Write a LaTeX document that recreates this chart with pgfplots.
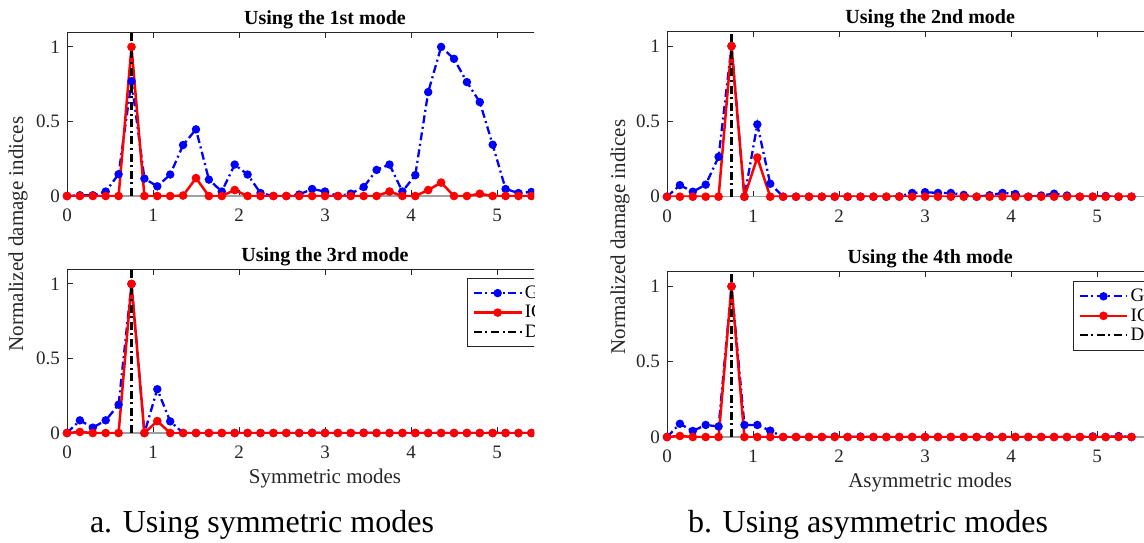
\documentclass[border=0pt]{standalone}
\usepackage{pgfplots}
\usepackage{pgfplotstable}
\pgfplotsset{compat=1.18}
\usepackage{fontspec}
\setmainfont{Liberation Serif}

\definecolor{axgray}{RGB}{38,38,38}
\definecolor{basegray}{RGB}{160,160,160}

\pgfplotstableread{
x b r
0 0 0
0.15 0.005 0
0.3 0.005 0
0.45 0.03 0
0.6 0.146 0
0.75 0.77 1
0.9 0.117 0
1.05 0.065 0
1.2 0.144 0
1.35 0.342 0.003
1.5 0.447 0.12
1.65 0.11 0
1.8 0.03 0
1.95 0.211 0.04
2.1 0.144 0
2.25 0.02 0
2.4 0 0
2.55 0 0
2.7 0.01 0
2.85 0.047 0
3.0 0.03 0
3.15 0 0
3.3 0.016 0
3.45 0.06 0
3.6 0.175 0
3.75 0.211 0.03
3.9 0.03 0
4.05 0.14 0
4.2 0.697 0.04
4.35 1.0 0.09
4.5 0.92 0
4.65 0.764 0
4.8 0.63 0.015
4.95 0.344 0
5.1 0.047 0
5.25 0.02 0
5.4 0.027 0
}\modeone

\pgfplotstableread{
x b r
0 0 0
0.15 0.077 0
0.3 0.033 0
0.45 0.08 0
0.6 0.265 0
0.75 1 1
0.9 0 0
1.05 0.48 0.26
1.2 0.086 0
1.35 0 0
1.5 0 0
1.65 0 0
1.8 0 0
1.95 0 0
2.1 0 0
2.25 0 0
2.4 0 0
2.55 0 0
2.7 0.002 0
2.85 0.025 0
3.0 0.03 0
3.15 0.025 0
3.3 0.025 0
3.45 0.012 0
3.6 0 0
3.75 0.01 0
3.9 0.025 0
4.05 0.018 0
4.2 0 0
4.35 0.008 0
4.5 0.02 0
4.65 0.008 0
4.8 0 0
4.95 0 0
5.1 0.005 0
5.25 0 0
5.4 0 0
}\modetwo

\pgfplotstableread{
x b r
0 0 0
0.15 0.085 0.007
0.3 0.036 0
0.45 0.085 0
0.6 0.19 0
0.75 1 1
0.9 0 0
1.05 0.294 0.08
1.2 0.078 0
1.35 0 0
1.5 0 0
1.65 0 0
1.8 0 0
1.95 0 0
2.1 0 0
2.25 0 0
2.4 0 0
2.55 0 0
2.7 0 0
2.85 0.002 0
3.0 0 0
3.15 0 0
3.3 0 0
3.45 0.002 0
3.6 0 0
3.75 0 0
3.9 0 0
4.05 0 0
4.2 0 0
4.35 0 0
4.5 0 0
4.65 0 0
4.8 0 0
4.95 0 0
5.1 0 0
5.25 0 0
5.4 0 0
}\modethree

\pgfplotstableread{
x b r
0 0 0
0.15 0.088 0.007
0.3 0.04 0
0.45 0.08 0
0.6 0.07 0
0.75 1 1
0.9 0.08 0
1.05 0.08 0
1.2 0.042 0
1.35 0 0
1.5 0 0
1.65 0 0
1.8 0 0
1.95 0.003 0
2.1 0 0
2.25 0.003 0
2.4 0 0
2.55 0 0
2.7 0 0
2.85 0 0
3.0 0 0
3.15 0 0
3.3 0 0
3.45 0 0
3.6 0 0
3.75 0.004 0
3.9 0 0
4.05 0 0
4.2 0 0
4.35 0 0
4.5 0 0
4.65 0 0
4.8 0 0
4.95 0.004 0
5.1 0 0
5.25 0.006 0
5.4 0 0
}\modefour

\pgfplotsset{
  panel/.style={
    scale only axis,
    anchor=south west,
    ymin=0, ymax=1.1,
    xmin=0,
    xtick={0,1,2,3,4,5},
    ytick={0,0.5,1},
    tick align=inside,
    major tick length=3pt,
    axis line style={axgray, line width=0.5pt},
    every tick/.style={axgray, line width=0.5pt},
    tick label style={font=\fontsize{9.5}{11}\selectfont, text=axgray},
    /pgf/number format/assume math mode=true,
    xticklabel shift=3pt,
    every axis title/.style={at={(axis description cs:0.5,1)}, anchor=base, yshift=4pt,
                 font=\fontsize{10}{12}\selectfont\bfseries},
    every axis x label/.style={at={(axis description cs:0.5,0)}, anchor=base, yshift=-25pt,
                  font=\fontsize{10.5}{12}\selectfont, text=axgray},
    legend cell align=left,
    legend style={draw=axgray, line width=0.5pt, font=\fontsize{9.5}{11}\selectfont,
                  anchor=north west, inner sep=2.5pt, row sep=0pt,
                  nodes={inner sep=1pt, text height=6.5pt, text depth=1.25pt}},
    legend image code/.code={
      \draw[mark repeat=2,mark phase=2] plot coordinates {(0cm,0cm) (0.42cm,0cm) (0.84cm,0cm)};
    },
  },
  gseries/.style={blue, line width=1.15pt, dash pattern=on 4pt off 1.8pt on 1pt off 1.8pt,
                  mark=*, mark size=1.5pt, mark options={solid, fill=blue}},
  iseries/.style={red, line width=1.25pt, solid, mark=*, mark size=1.5pt,
                  mark options={solid, fill=red}},
  dseries/.style={black, line width=1.1pt, dash pattern=on 4pt off 1.8pt on 1pt off 1.8pt},
  baseline/.style={basegray, line width=1pt, forget plot},
}

\begin{document}
\begin{tikzpicture}
\useasboundingbox (0,0) rectangle (572pt,-271pt);

% left column
\begin{scope}
\clip (0,0) rectangle (267pt,-271pt);
\begin{axis}[panel, at={(33.5pt,-98pt)}, width=258pt, height=82pt, xmax=6,
  title={Using the 1st mode}]
  \addplot[baseline] coordinates {(0,0) (6,0)};
  \addplot[gseries] table[x=x,y=b] {\modeone};
  \addplot[iseries] table[x=x,y=r] {\modeone};
  \addplot[dseries] coordinates {(0.75,0) (0.75,1.1)};
\end{axis}
\begin{axis}[panel, at={(33.5pt,-216.5pt)}, width=258pt, height=82pt, xmax=6,
  title={Using the 3rd mode}, xlabel={Symmetric modes},
  legend style={at={(rel axis cs:0.7752,0.946)}}]
  \addplot[baseline] coordinates {(0,0) (6,0)};
  \addplot[gseries] table[x=x,y=b] {\modethree};
  \addlegendentry{G\hspace*{40pt}}
  \addplot[iseries] table[x=x,y=r] {\modethree};
  \addlegendentry{IC\hspace*{40pt}}
  \addplot[dseries] coordinates {(0.75,0) (0.75,1.1)};
  \addlegendentry{D\hspace*{40pt}}
\end{axis}
\end{scope}
\node[rotate=90, anchor=center, font=\fontsize{10.5}{12}\selectfont, text=axgray] at (9pt,-117pt) {Normalized damage indices};
\node[anchor=base, font=\fontsize{16}{19}\selectfont] at (131pt,-266pt) {a. Using symmetric modes};

% right column
\begin{scope}
\clip (270pt,0) rectangle (572pt,-271pt);
\begin{axis}[panel, at={(333.5pt,-98.35pt)}, width=263.2pt, height=82.85pt, xmax=6.12,
  title={Using the 2nd mode}]
  \addplot[baseline] coordinates {(0,0) (6.12,0)};
  \addplot[gseries] table[x=x,y=b] {\modetwo};
  \addplot[iseries] table[x=x,y=r] {\modetwo};
  \addplot[dseries] coordinates {(0.75,0) (0.75,1.1)};
\end{axis}
\begin{axis}[panel, at={(333.5pt,-218.5pt)}, width=263.2pt, height=82.85pt, xmax=6.12,
  title={Using the 4th mode}, xlabel={Asymmetric modes},
  legend style={at={(rel axis cs:0.771,0.941)}}]
  \addplot[baseline] coordinates {(0,0) (6.12,0)};
  \addplot[gseries] table[x=x,y=b] {\modefour};
  \addlegendentry{G\hspace*{40pt}}
  \addplot[iseries] table[x=x,y=r] {\modefour};
  \addlegendentry{IC\hspace*{40pt}}
  \addplot[dseries] coordinates {(0.75,0) (0.75,1.1)};
  \addlegendentry{D\hspace*{40pt}}
\end{axis}
\end{scope}
\node[rotate=90, anchor=center, font=\fontsize{10.5}{12}\selectfont, text=axgray] at (310pt,-118.5pt) {Normalized damage indices};
\node[anchor=base, font=\fontsize{16}{19}\selectfont] at (434pt,-266pt) {b. Using asymmetric modes};
\end{tikzpicture}
\end{document}
